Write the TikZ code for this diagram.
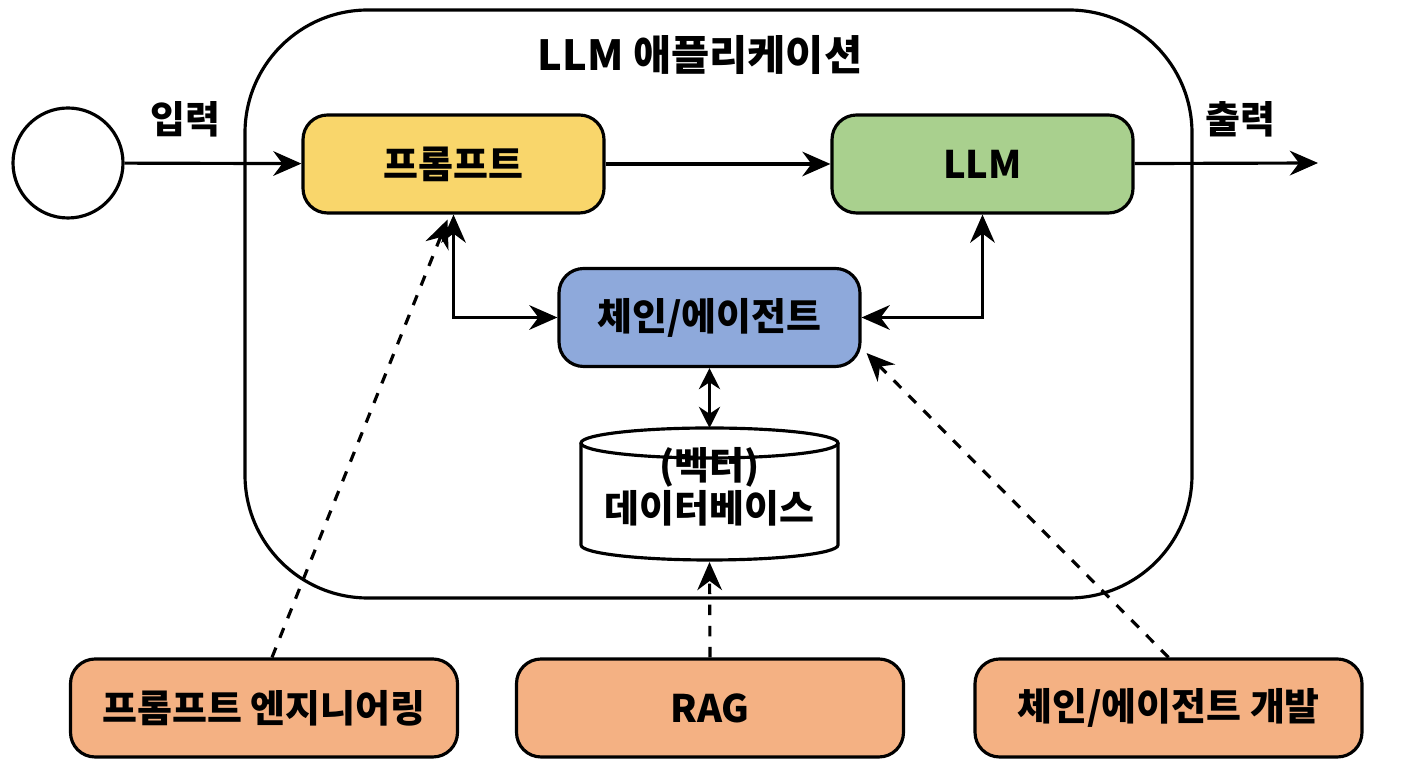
\documentclass[tikz,border=0pt]{standalone}
\usepackage{fontspec}
\setmainfont{Noto Sans CJK KR}
\usetikzlibrary{positioning,calc,arrows.meta}
\definecolor{promptyel}{HTML}{F9D66B}
\definecolor{llmgreen}{HTML}{A9D08E}
\definecolor{chainblue}{HTML}{8EA9DB}
\definecolor{skillorange}{HTML}{F4B183}
\newcommand{\boxfont}{\bfseries\fontsize{10.8}{13}\selectfont}
\begin{document}
\begin{tikzpicture}[line width=0.9pt, >={Stealth[length=8pt,width=7pt]},
  box/.style={draw, rounded corners=7pt, minimum width=3.01cm, minimum height=0.98cm, font=\boxfont},
  skill/.style={box, fill=skillorange, minimum width=3.87cm},
  dashedarrow/.style={->, dashed}]
  \useasboundingbox (0,0) rectangle (14.08,7.68);
  % application frame
  \draw[rounded corners=35pt] (2.45,1.70) rectangle (11.92,7.58);
  \node[font=\bfseries\fontsize{11.8}{14}\selectfont] (title) at (7.00,7.13) {LLM 애플리케이션};
  \node[draw, circle, minimum size=1.10cm] (user) at (0.68,6.05) {};
  \node[box, fill=promptyel] (prompt) at (4.535,6.04) {프롬프트};
  \node[box, fill=llmgreen] (llm) at (9.825,6.04) {LLM};
  \node[box, fill=chainblue] (chain) at (7.095,4.505) {체인/에이전트};
  \coordinate (out) at (13.18,6.05);
  \node[font=\boxfont, above] (inlabel) at (1.85,6.18) {입력};
  \node[font=\boxfont, above] (outlabel) at (12.40,6.18) {출력};
  % database
  \draw[fill=white] (5.81,3.25) -- (5.81,2.23) arc[start angle=180, end angle=360, x radius=1.285, y radius=0.15] -- (8.38,3.25);
  \draw[fill=white] (7.095,3.25) ellipse[x radius=1.285, y radius=0.15];
  \node[align=center, font=\boxfont, minimum width=2.57cm, minimum height=1.32cm, inner sep=0] (db) at (7.095,2.74) {\\[-8pt](벡터)\\[-1pt]데이터베이스};
  % skills
  \node[skill] (pe) at (2.64,0.60) {프롬프트 엔지니어링};
  \node[skill] (rag) at (7.10,0.60) {RAG};
  \node[skill] (dev) at (11.685,0.60) {체인/에이전트 개발};
  % flow
  \draw[->] (user) -- (prompt);
  \draw[->] (prompt) -- (llm);
  \draw[->] (llm) -- (out);
  \draw[<->] (prompt.south) -- (prompt.south |- chain.west) -- (chain.west);
  \draw[<->] (chain.east) -- (llm.south |- chain.east) -- (llm.south);
  \draw[{Stealth[length=6pt,width=6pt]}-{Stealth[length=6pt,width=6pt]}] (chain.south) -- (7.095,3.40);
  % skill links
  \draw[dashedarrow] ([xshift=0.08cm]pe.north) -- ([xshift=-0.06cm,yshift=-0.05cm]prompt.south);
  \draw[dashedarrow] (rag.north) -- (7.095,2.06);
  \draw[dashedarrow] (dev.north) -- ([xshift=0.05cm,yshift=0.15cm]chain.south east);
\end{tikzpicture}
\end{document}
